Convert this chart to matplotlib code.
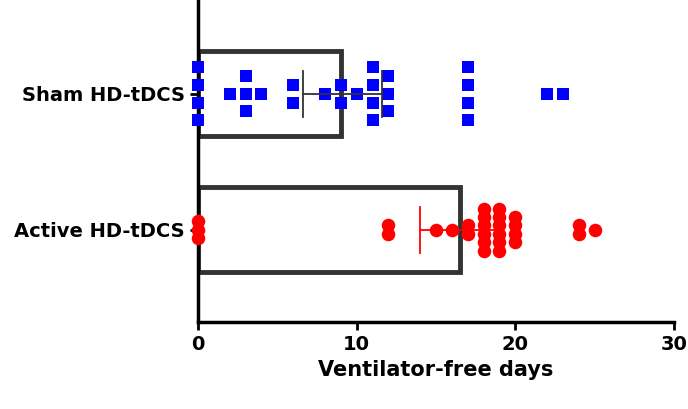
import numpy as np
import matplotlib
matplotlib.use("Agg")
import matplotlib.pyplot as plt
from collections import Counter

categories = ["Active HD-tDCS", "Sham HD-tDCS"]
sham_values = [0,0,0,0,2,3,3,3,4,6,6,8,9,9,10,11,11,11,11,12,12,12,17,17,17,17,22,23]
active_values = [0,0,0,12,12,15,16,17,17,18,18,18,18,18,18,19,19,19,19,19,19,20,20,20,20,24,24,25]
bar_means = [16.5, 9.0]
err_low = [14.0, 6.6]
err_high = [19.0, 11.6]
colors = ["#ff0000", "#0000ff"]
markers = ["o", "s"]
steps = [0.062, 0.13]

fig = plt.figure(figsize=(6.88, 4.09), dpi=100)
ax = fig.add_axes([198/688, 1-322/409, 476/688, 322/409])
ax.set_xlim(0, 30)
ax.set_ylim(-0.68, 1.69)
for yi, (vals, c, m) in enumerate(zip([active_values, sham_values], colors, markers)):
    ax.barh(yi, bar_means[yi], height=0.625, facecolor="white", edgecolor="#333333", linewidth=3.5, zorder=1)
    cnt = Counter(vals)
    for v, n in cnt.items():
        offs = (np.arange(n) - (n - 1) / 2) * steps[yi]
        ax.scatter([v]*n, yi + offs, s=95 if m == "o" else 80, c=c, marker=m, zorder=3, clip_on=False, linewidths=0)
    ec = "#333333" if yi == 1 else c
    ax.plot([err_low[yi], err_high[yi]], [yi, yi], color=ec, lw=1.3, zorder=4)
    for e in (err_low[yi], err_high[yi]):
        ax.plot([e, e], [yi-0.17, yi+0.17], color=ec, lw=1.3, zorder=4)

ax.set_yticks([0, 1])
ax.set_yticklabels(categories, fontsize=14, fontweight="bold")
ax.set_xticks([0, 10, 20, 30])
ax.tick_params(labelsize=14, width=2, length=6)
for t in ax.get_xticklabels():
    t.set_fontweight("bold")
ax.set_xlabel("Ventilator-free days", fontsize=15, fontweight="bold")
for s in ["top", "right"]:
    ax.spines[s].set_visible(False)
for s in ["left", "bottom"]:
    ax.spines[s].set_linewidth(2.5)
fig.savefig("out.png", dpi=100)
